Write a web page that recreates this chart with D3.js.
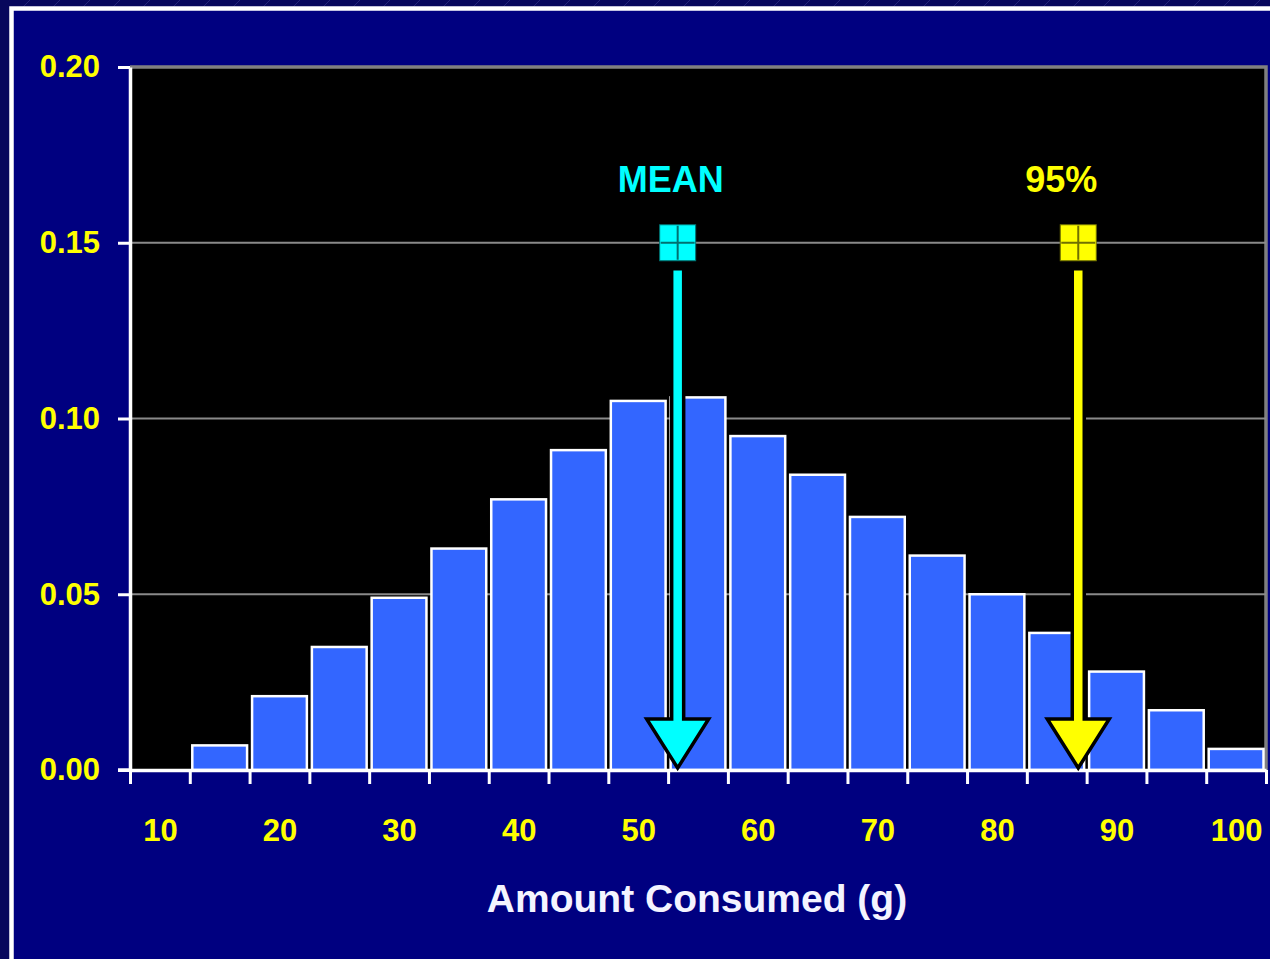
<!DOCTYPE html>
<html>
<head>
<meta charset="utf-8">
<script src="https://cdn.jsdelivr.net/npm/d3@7"></script>
<style>
  html, body { margin: 0; padding: 0; background: #07075c; overflow: hidden; }
  svg { display: block; }
  text { font-family: "Liberation Sans", Arial, sans-serif; font-weight: bold; }
</style>
</head>
<body>
<svg id="chart" width="1270" height="959"></svg>
<script>
// Histogram bins (centre of each 5 g bin) and their relative frequency
const binCenters = [10, 15, 20, 25, 30, 35, 40, 45, 50, 55, 60, 65, 70, 75, 80, 85, 90, 95, 100];
const frequency  = [0, 0.007, 0.021, 0.035, 0.049, 0.063, 0.077, 0.091, 0.105, 0.106,
                    0.095, 0.084, 0.072, 0.061, 0.050, 0.039, 0.028, 0.017, 0.006];
const binWidth = 5;

// Axis ticks
const yTicks = [0, 0.05, 0.10, 0.15, 0.20];
const xLabels = [10, 20, 30, 40, 50, 60, 70, 80, 90, 100];

// Reference markers drawn as arrows
const markerNames  = ["MEAN", "95%"];
const markerValues = [53.3, 86.8];
const markerColors = ["#00ffff", "#ffff00"];
const markerCross  = ["#007070", "#707000"];
const markerLevel  = 0.15;

const svg = d3.select("#chart");
const W = 1270, H = 959;
const plot = { left: 130, right: 1266, top: 67, bottom: 770 };
const labelShift = [-7, -17];

// Background: dark outer page with a faint hatch along the top, then the navy slide panel
const defs = svg.append("defs");
const pat = defs.append("pattern").attr("id", "hatch").attr("patternUnits", "userSpaceOnUse")
  .attr("width", 30).attr("height", 30);
pat.append("rect").attr("width", 30).attr("height", 30).attr("fill", "#07075c");
pat.append("line").attr("x1", 0).attr("y1", 30).attr("x2", 30).attr("y2", 0)
  .attr("stroke", "#2c2c80").attr("stroke-width", 0.8);
svg.append("rect").attr("width", W).attr("height", H).attr("fill", "#07075c");
svg.append("rect").attr("width", W).attr("height", 8).attr("fill", "url(#hatch)");
svg.append("rect").attr("x", 11.5).attr("y", 8.5).attr("width", W + 20).attr("height", H + 20)
  .attr("fill", "#000080").attr("stroke", "#ffffff").attr("stroke-width", 4.5);

const x = d3.scaleLinear()
  .domain([binCenters[0] - binWidth / 2, binCenters[binCenters.length - 1] + binWidth / 2])
  .range([plot.left, plot.right]);
const y = d3.scaleLinear().domain([0, 0.20]).range([plot.bottom, plot.top]);

// Plot area
svg.append("rect")
  .attr("x", plot.left).attr("y", plot.top)
  .attr("width", plot.right - plot.left).attr("height", plot.bottom - plot.top)
  .attr("fill", "#000000");
svg.append("path")
  .attr("d", `M${plot.left},${plot.top}H${plot.right}V${plot.bottom}`)
  .attr("fill", "none").attr("stroke", "#808080").attr("stroke-width", 3.5);

// Horizontal grid lines
svg.append("g").selectAll("line")
  .data(yTicks.filter(d => d > 0 && d < 0.20))
  .join("line")
  .attr("x1", plot.left).attr("x2", plot.right)
  .attr("y1", d => y(d)).attr("y2", d => y(d))
  .attr("stroke", "#8a8a8a").attr("stroke-width", 2);

// Bars
const bins = binCenters.map((c, i) => ({ c, v: frequency[i] })).filter(d => d.v > 0);
svg.append("g").selectAll("rect")
  .data(bins)
  .join("rect")
  .attr("x", d => x(d.c - binWidth / 2) + 2.5)
  .attr("width", d => x(d.c + binWidth / 2) - x(d.c - binWidth / 2) - 5)
  .attr("y", d => y(d.v))
  .attr("height", d => y(0) - y(d.v))
  .attr("fill", "#3366ff")
  .attr("stroke", "#ffffff")
  .attr("stroke-width", 2.5);

// Y axis
const yAxis = svg.append("g")
  .attr("transform", `translate(${plot.left},0)`)
  .call(d3.axisLeft(y).tickValues(yTicks).tickFormat(d3.format(".2f"))
    .tickSize(12).tickSizeOuter(0).tickPadding(18));

// X axis: tick marks at bin edges
const edges = binCenters.map(c => c - binWidth / 2).concat([binCenters[binCenters.length - 1] + binWidth / 2]);
const xAxis = svg.append("g")
  .attr("transform", `translate(0,${plot.bottom})`)
  .call(d3.axisBottom(x).tickValues(edges).tickFormat("").tickSize(14).tickSizeOuter(0));

// X axis labels at every other bin centre
const xLab = svg.append("g")
  .attr("transform", `translate(0,${plot.bottom})`)
  .call(d3.axisBottom(x).tickValues(xLabels).tickFormat(d3.format("d")).tickSize(0).tickPadding(49));
xLab.select(".domain").remove();

[yAxis, xAxis].forEach(g => {
  g.select(".domain").attr("stroke", "#ffffff").attr("stroke-width", 3.5);
  g.selectAll(".tick line").attr("stroke", "#ffffff").attr("stroke-width", 3);
});
svg.append("line").attr("x1", plot.left - 12).attr("x2", plot.left)
  .attr("y1", plot.bottom).attr("y2", plot.bottom)
  .attr("stroke", "#ffffff").attr("stroke-width", 3.5);
[yAxis, xLab].forEach(g => {
  g.selectAll(".tick text")
    .attr("fill", "#ffff00")
    .style("font-family", "'Liberation Sans', Arial, sans-serif")
    .style("font-weight", "bold")
    .style("font-size", "31px");
});

// Axis title
svg.append("text")
  .attr("x", 697)
  .attr("y", 912)
  .attr("text-anchor", "middle")
  .attr("fill", "#f4f4ff")
  .style("font-size", "39px")
  .text("Amount Consumed (g)");

// Marker arrows
const markers = markerNames.map((name, i) => ({
  name, v: markerValues[i], color: markerColors[i], cross: markerCross[i], dx: labelShift[i]
}));
const mg = svg.append("g").selectAll("g").data(markers).join("g");

mg.append("path")
  .attr("d", d => {
    const cx = x(d.v), top = y(markerLevel) + 26, tip = y(0) - 2, hy = tip - 49, sw = 6, hw = 31;
    return `M${cx - sw},${top}H${cx + sw}V${hy}H${cx + hw}L${cx},${tip}L${cx - hw},${hy}H${cx - sw}Z`;
  })
  .attr("fill", d => d.color)
  .attr("stroke", "#000000")
  .attr("stroke-width", 3.5)
  .attr("stroke-linejoin", "miter");

const sq = 36;
mg.append("rect")
  .attr("x", d => x(d.v) - sq / 2).attr("y", y(markerLevel) - sq / 2)
  .attr("width", sq).attr("height", sq)
  .attr("fill", d => d.color)
  .attr("stroke", d => d.cross).attr("stroke-width", 1);
mg.append("path")
  .attr("d", d => {
    const cx = x(d.v), cy = y(markerLevel), h = sq / 2 - 1;
    return `M${cx - h},${cy}H${cx + h}M${cx},${cy - h}V${cy + h}`;
  })
  .attr("stroke", d => d.cross).attr("stroke-width", 2).attr("fill", "none");

mg.append("text")
  .attr("x", d => x(d.v) + d.dx)
  .attr("y", 192)
  .attr("text-anchor", "middle")
  .attr("fill", d => d.color)
  .style("font-size", "36px")
  .text(d => d.name);
</script>
</body>
</html>
